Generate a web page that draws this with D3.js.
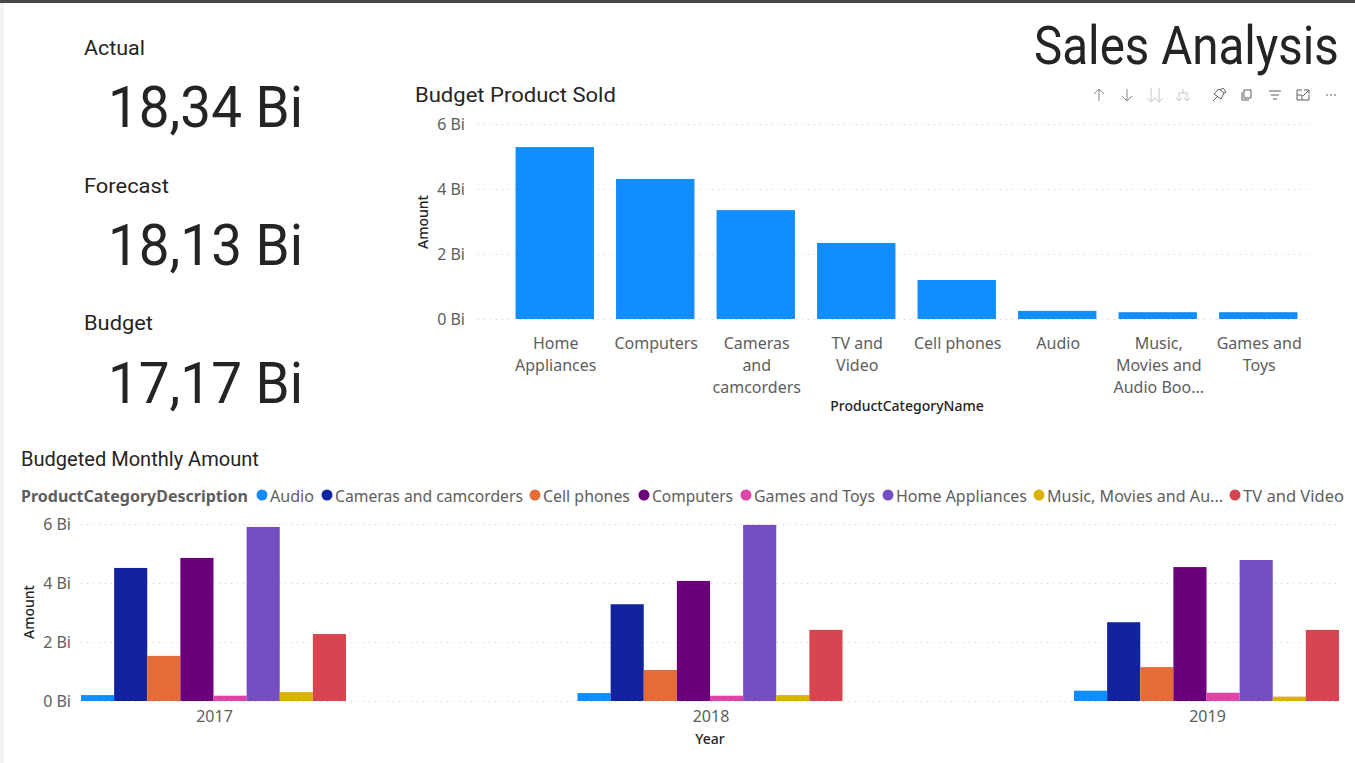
<!DOCTYPE html>
<html>
<head>
<meta charset="utf-8">
<script src="https://cdn.jsdelivr.net/npm/d3@7/dist/d3.min.js"></script>
<style>
    html, body { margin: 0; padding: 0; background: #fff; overflow: hidden; }
    svg { display: block; }
    text { font-family: "Noto Sans", sans-serif; }
    .din { font-family: "Roboto", sans-serif; fill: #252423; }
    .grid line { stroke: #d2d0ce; stroke-dasharray: 1 5; }
    .axis-label { fill: #605e5c; font-size: 16px; }
    .axis-title { fill: #252423; font-size: 14px; font-weight: 500; }
</style>
</head>
<body>
<svg id="page" width="1355" height="763"></svg>
<script>
var cards = [ "Actual", "Forecast", "Budget" ];
var cardWidths = [ 61, 85, 69 ];
var cardValues = [ "18,34 Bi", "18,13 Bi", "17,17 Bi" ];

var productNames = [ "Home Appliances", "Computers", "Cameras and camcorders", "TV and Video", "Cell phones", "Audio", "Music, Movies and Audio Boo...", "Games and Toys" ];
var productLines = [ [ "Home", "Appliances" ], [ "Computers" ], [ "Cameras", "and", "camcorders" ], [ "TV and", "Video" ], [ "Cell phones" ], [ "Audio" ], [ "Music,", "Movies and", "Audio Boo..." ], [ "Games and", "Toys" ] ];
var productAmounts = [ 5.29, 4.31, 3.35, 2.34, 1.2, 0.25, 0.21, 0.21 ];

var years = [ "2017", "2018", "2019" ];
var seriesNames = [ "Audio", "Cameras and camcorders", "Cell phones", "Computers", "Games and Toys", "Home Appliances", "Music, Movies and Au...", "TV and Video" ];
var seriesColors = [ "#118DFF", "#12239E", "#E66C37", "#6B007B", "#E044A7", "#744EC2", "#D9B300", "#D64550" ];
var amounts2017 = [ 0.2, 4.51, 1.53, 4.85, 0.18, 5.9, 0.3, 2.27 ];
var amounts2018 = [ 0.27, 3.28, 1.05, 4.07, 0.18, 5.97, 0.2, 2.41 ];
var amounts2019 = [ 0.35, 2.67, 1.15, 4.54, 0.28, 4.78, 0.15, 2.41 ];
var yearAmounts = [ amounts2017, amounts2018, amounts2019 ];

var amountTicks = [ 0, 2, 4, 6 ];
var legendX = [ 257, 322, 530, 639, 741, 883, 1034, 1230 ];
var legendWidths = [ 44, 188, 87, 81, 121, 131, 176, 101 ];

var svg = d3.select( "#page" );

function biLabel( d ) {
    return d + " Bi";
}

// Roboto runs wider than the report font, so each heading is squeezed to its width
function dinText( x, y, size, label, width ) {
    var text = svg.append( "text" ).attr( "class", "din" )
        .style( "font-size", size + "px" ).text( label );

    text.attr( "transform", "translate(" + x + "," + y + ") scale(" + width / text.node().getComputedTextLength() + ",1)" );

    return text;
}

function drawFrame() {
    svg.append( "rect" ).attr( "width", 1355 ).attr( "height", 3 ).attr( "fill", "#484848" );
    svg.append( "rect" ).attr( "y", 3 ).attr( "width", 4 ).attr( "height", 760 ).attr( "fill", "#f3f3f3" );
    dinText( 1034, 64, 53, "Sales Analysis", 305 );
}

function drawCards() {
    var cardTop = [ 55, 193, 330 ], valueTop = [ 127, 265, 403 ];

    cards.forEach( function( name, i ) {
        dinText( 84, cardTop[ i ], 21, name, cardWidths[ i ] );
        dinText( 108, valueTop[ i ], 58, cardValues[ i ], 195 );
    });
}

function drawGrid( g, y, x0, x1 ) {
    var grid = d3.axisLeft( y ).tickValues( amountTicks ).tickSize( x0 - x1 ).tickFormat( "" );

    g.append( "g" ).attr( "class", "grid" ).attr( "transform", "translate(" + x0 + ",0)" )
        .call( grid ).call( function( a ) { a.select( ".domain" ).remove(); } );
}

function drawYAxis( g, y, x ) {
    var axis = d3.axisLeft( y ).tickValues( amountTicks ).tickSize( 0 ).tickPadding( 0 ).tickFormat( biLabel );

    g.append( "g" ).attr( "transform", "translate(" + x + ",0)" ).call( axis )
        .call( function( a ) {
            a.select( ".domain" ).remove();
            a.selectAll( "text" ).attr( "class", "axis-label" ).style( "font-size", "16px" );
        });
}

function drawProductChart() {
    var g = svg.append( "g" );
    var x = d3.scaleBand().domain( productNames ).range( [ 504.5, 1308.5 ] ).paddingInner( 0.22 ).paddingOuter( 0.11 );
    var y = d3.scaleLinear().domain( [ 0, 6 ] ).range( [ 319, 124 ] );

    dinText( 415, 102, 21, "Budget Product Sold", 201 );

    drawGrid( g, y, 478, 1312 );
    drawYAxis( g, y, 465 );

    g.selectAll( ".bar" ).data( productAmounts ).enter().append( "rect" )
        .attr( "x", function( d, i ) { return x( productNames[ i ] ); } )
        .attr( "y", function( d ) { return y( d ); } )
        .attr( "width", x.bandwidth() )
        .attr( "height", function( d ) { return y( 0 ) - y( d ); } )
        .attr( "fill", seriesColors[ 0 ] );

    productLines.forEach( function( lines, i ) {
        var cx = x( productNames[ i ] ) + x.bandwidth() / 2;
        lines.forEach( function( line, j ) {
            g.append( "text" ).attr( "class", "axis-label" ).attr( "x", cx + 1 ).attr( "y", 349 + j * 22 )
                .attr( "text-anchor", "middle" ).text( line );
        });
    });

    g.append( "text" ).attr( "class", "axis-title" ).attr( "x", 907 ).attr( "y", 411 )
        .attr( "text-anchor", "middle" ).text( "ProductCategoryName" );
    g.append( "text" ).attr( "class", "axis-title" ).attr( "transform", "translate(428,222) rotate(-90)" )
        .attr( "text-anchor", "middle" ).text( "Amount" );
}

function drawYearChart() {
    var g = svg.append( "g" );
    var x = d3.scaleBand().domain( years ).range( [ 81, 1339 ] ).paddingInner( 0.4663 );
    var inner = d3.scaleBand().domain( seriesNames ).range( [ 0, x.bandwidth() ] );
    var y = d3.scaleLinear().domain( [ 0, 6 ] ).range( [ 701, 524 ] );

    dinText( 21, 466, 20, "Budgeted Monthly Amount", 238 );

    g.append( "text" ).attr( "x", 21 ).attr( "y", 502 ).attr( "fill", "#605e5c" )
        .style( "font-size", "16px" ).style( "font-weight", "700" ).text( "ProductCategoryDescription" );

    seriesNames.forEach( function( name, i ) {
        g.append( "circle" ).attr( "cx", legendX[ i ] + 5 ).attr( "cy", 495 ).attr( "r", 5.5 ).attr( "fill", seriesColors[ i ] );
        g.append( "text" ).attr( "class", "axis-label" ).attr( "x", legendX[ i ] + 13 ).attr( "y", 502 )
            .attr( "textLength", legendWidths[ i ] ).attr( "lengthAdjust", "spacingAndGlyphs" ).text( name );
    });

    drawGrid( g, y, 81, 1339 );
    drawYAxis( g, y, 71 );

    var groups = g.selectAll( ".year" ).data( yearAmounts ).enter().append( "g" )
        .attr( "transform", function( d, i ) { return "translate(" + x( years[ i ] ) + ",0)"; } );

    groups.selectAll( "rect" ).data( function( d ) { return d; } ).enter().append( "rect" )
        .attr( "x", function( d, i ) { return inner( seriesNames[ i ] ); } )
        .attr( "y", function( d ) { return y( d ); } )
        .attr( "width", inner.bandwidth() )
        .attr( "height", function( d ) { return y( 0 ) - y( d ); } )
        .attr( "fill", function( d, i ) { return seriesColors[ i ]; } );

    var xAxis = d3.axisBottom( x ).tickSize( 0 ).tickPadding( 10 );

    g.append( "g" ).attr( "transform", "translate(1,701)" ).call( xAxis )
        .call( function( a ) {
            a.select( ".domain" ).remove();
            a.selectAll( "text" ).attr( "class", "axis-label" ).style( "font-size", "16px" );
        });

    g.append( "text" ).attr( "class", "axis-title" ).attr( "x", 710 ).attr( "y", 744 )
        .attr( "text-anchor", "middle" ).text( "Year" );
    g.append( "text" ).attr( "class", "axis-title" ).attr( "transform", "translate(34,612) rotate(-90)" )
        .attr( "text-anchor", "middle" ).text( "Amount" );
}

function drawToolbar() {
    var icons = [
        { x: 1099, c: "#8a8886", d: "M0,-6V6M-5,-1L0,-6L5,-1" },
        { x: 1127, c: "#8a8886", d: "M0,-6V6M-5,1L0,6L5,1" },
        { x: 1155, c: "#c8c6c4", d: "M-4,-7V7M-8,3L-4,7L0,3M4,-7V7M0,3L4,7L8,3" },
        { x: 1183, c: "#c8c6c4", d: "M0,-6V-2M-4,6V-2H4V6M-7,3L-4,6L-1,3M1,3L4,6L7,3" },
        { x: 1219, c: "#605e5c", d: "M-6,6L-2,2M-5,-1L0,-6L5,-2L2,4ZM1,-5L4,-7L7,-3L5,-2" },
        { x: 1247, c: "#605e5c", d: "M-3,-5H4V3H-3ZM-5,-3V5H2" },
        { x: 1275, c: "#605e5c", d: "M-6,-4H6M-4,0H4M-2,4H2" },
        { x: 1303, c: "#605e5c", d: "M-1,-5H-6V5H6V0M1,-5H6V-1M6,-5L0,1M-6,0H-1V5" },
        { x: 1331, c: "#605e5c", d: "M-5,0H-3M-1,0H1M3,0H5" }
    ];

    svg.selectAll( ".icon" ).data( icons ).enter().append( "path" )
        .attr( "transform", function( d ) { return "translate(" + d.x + ",95)"; } )
        .attr( "d", function( d ) { return d.d; } )
        .attr( "fill", "none" )
        .attr( "stroke", function( d ) { return d.c; } );
}

drawFrame();
drawCards();
drawProductChart();
drawYearChart();
drawToolbar();
</script>
</body>
</html>
